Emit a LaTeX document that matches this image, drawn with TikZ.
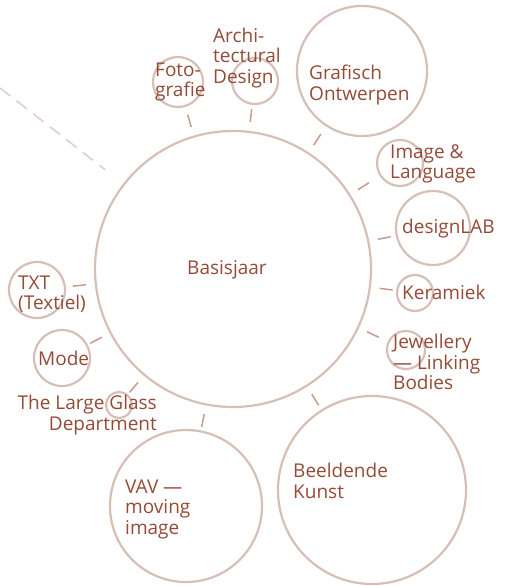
\documentclass[tikz,border=0pt]{standalone}
\usepackage{fontspec}
\setmainfont{Open Sans}
\usetikzlibrary{calc}
\definecolor{ringc}{HTML}{D6BFB7}
\definecolor{connc}{HTML}{C49C8F}
\definecolor{dashc}{HTML}{E2CDC6}
\definecolor{txtc}{HTML}{944A36}
\begin{document}
\begin{tikzpicture}[x=1pt,y=-1pt,
  ring/.style={circle,draw=ringc,line width=2.2pt,inner sep=0pt,minimum size=#1},
  lbl/.style={text=txtc,font=\fontsize{19}{20.5}\selectfont,align=left,anchor=west,inner sep=0pt},
  conn/.style={draw=connc,line width=1.5pt},
  dashline/.style={draw=dashc,line width=1.5pt,dash pattern=on 13pt off 8pt}]
\useasboundingbox (0,0) rectangle (505,586);
% circles
\node[ring=276pt] (B) at (233,269) {};
\node[ring=50pt] (F) at (178,82) {};
\node[ring=46pt] (A) at (255,81) {};
\node[ring=130pt] (G) at (362,71) {};
\node[ring=46pt] (I) at (400,163) {};
\node[ring=74pt] (D) at (433,228) {};
\node[ring=36pt] (K) at (415,293) {};
\node[ring=38pt] (J) at (406,350) {};
\node[ring=188pt] (BK) at (372,490) {};
\node[ring=152pt] (V) at (186,506) {};
\node[ring=56pt] (T) at (37,290) {};
\node[ring=56pt] (M) at (62,358) {};
\node[ring=26pt] (L) at (119,405) {};
% labels
\node[lbl] (tB) at (187,270) {Basisjaar};
\node[lbl] (tF) at (155,82) {Foto-\\grafie};
\node[lbl] (tA) at (213,58) {Archi-\\tectural\\Design};
\node[lbl] (tG) at (309,85) {Grafisch\\Ontwerpen};
\node[lbl] (tI) at (390,164) {Image \&\\Language};
\node[lbl] (tD) at (402,229) {designLAB};
\node[lbl] (tK) at (402,292) {Keramiek};
\node[lbl] (tJ) at (393,362) {Jewellery\\— Linking\\Bodies};
\node[lbl] (tBK) at (293,481) {Beeldende\\Kunst};
\node[lbl] (tV) at (125,509) {VAV —\\moving\\image};
\node[lbl] (tT) at (18,294) {TXT\\(Textiel)};
\node[lbl] (tM) at (38,358) {Mode};
\node[lbl,align=right,anchor=east] (tL) at (157,415) {The Large Glass\\Department};
% connectors
\foreach \n in {F,A,G,I,D,K,J,BK,V,T,M,L}{
  \draw[conn] ($(B)!148pt!(\n)$) -- ($(B)!161pt!(\n)$);
}
% dashed line to parent
\coordinate (P) at (0,88);
\draw[dashline] (P) -- ($(B)!162pt!(P)$);
\end{tikzpicture}
\end{document}
